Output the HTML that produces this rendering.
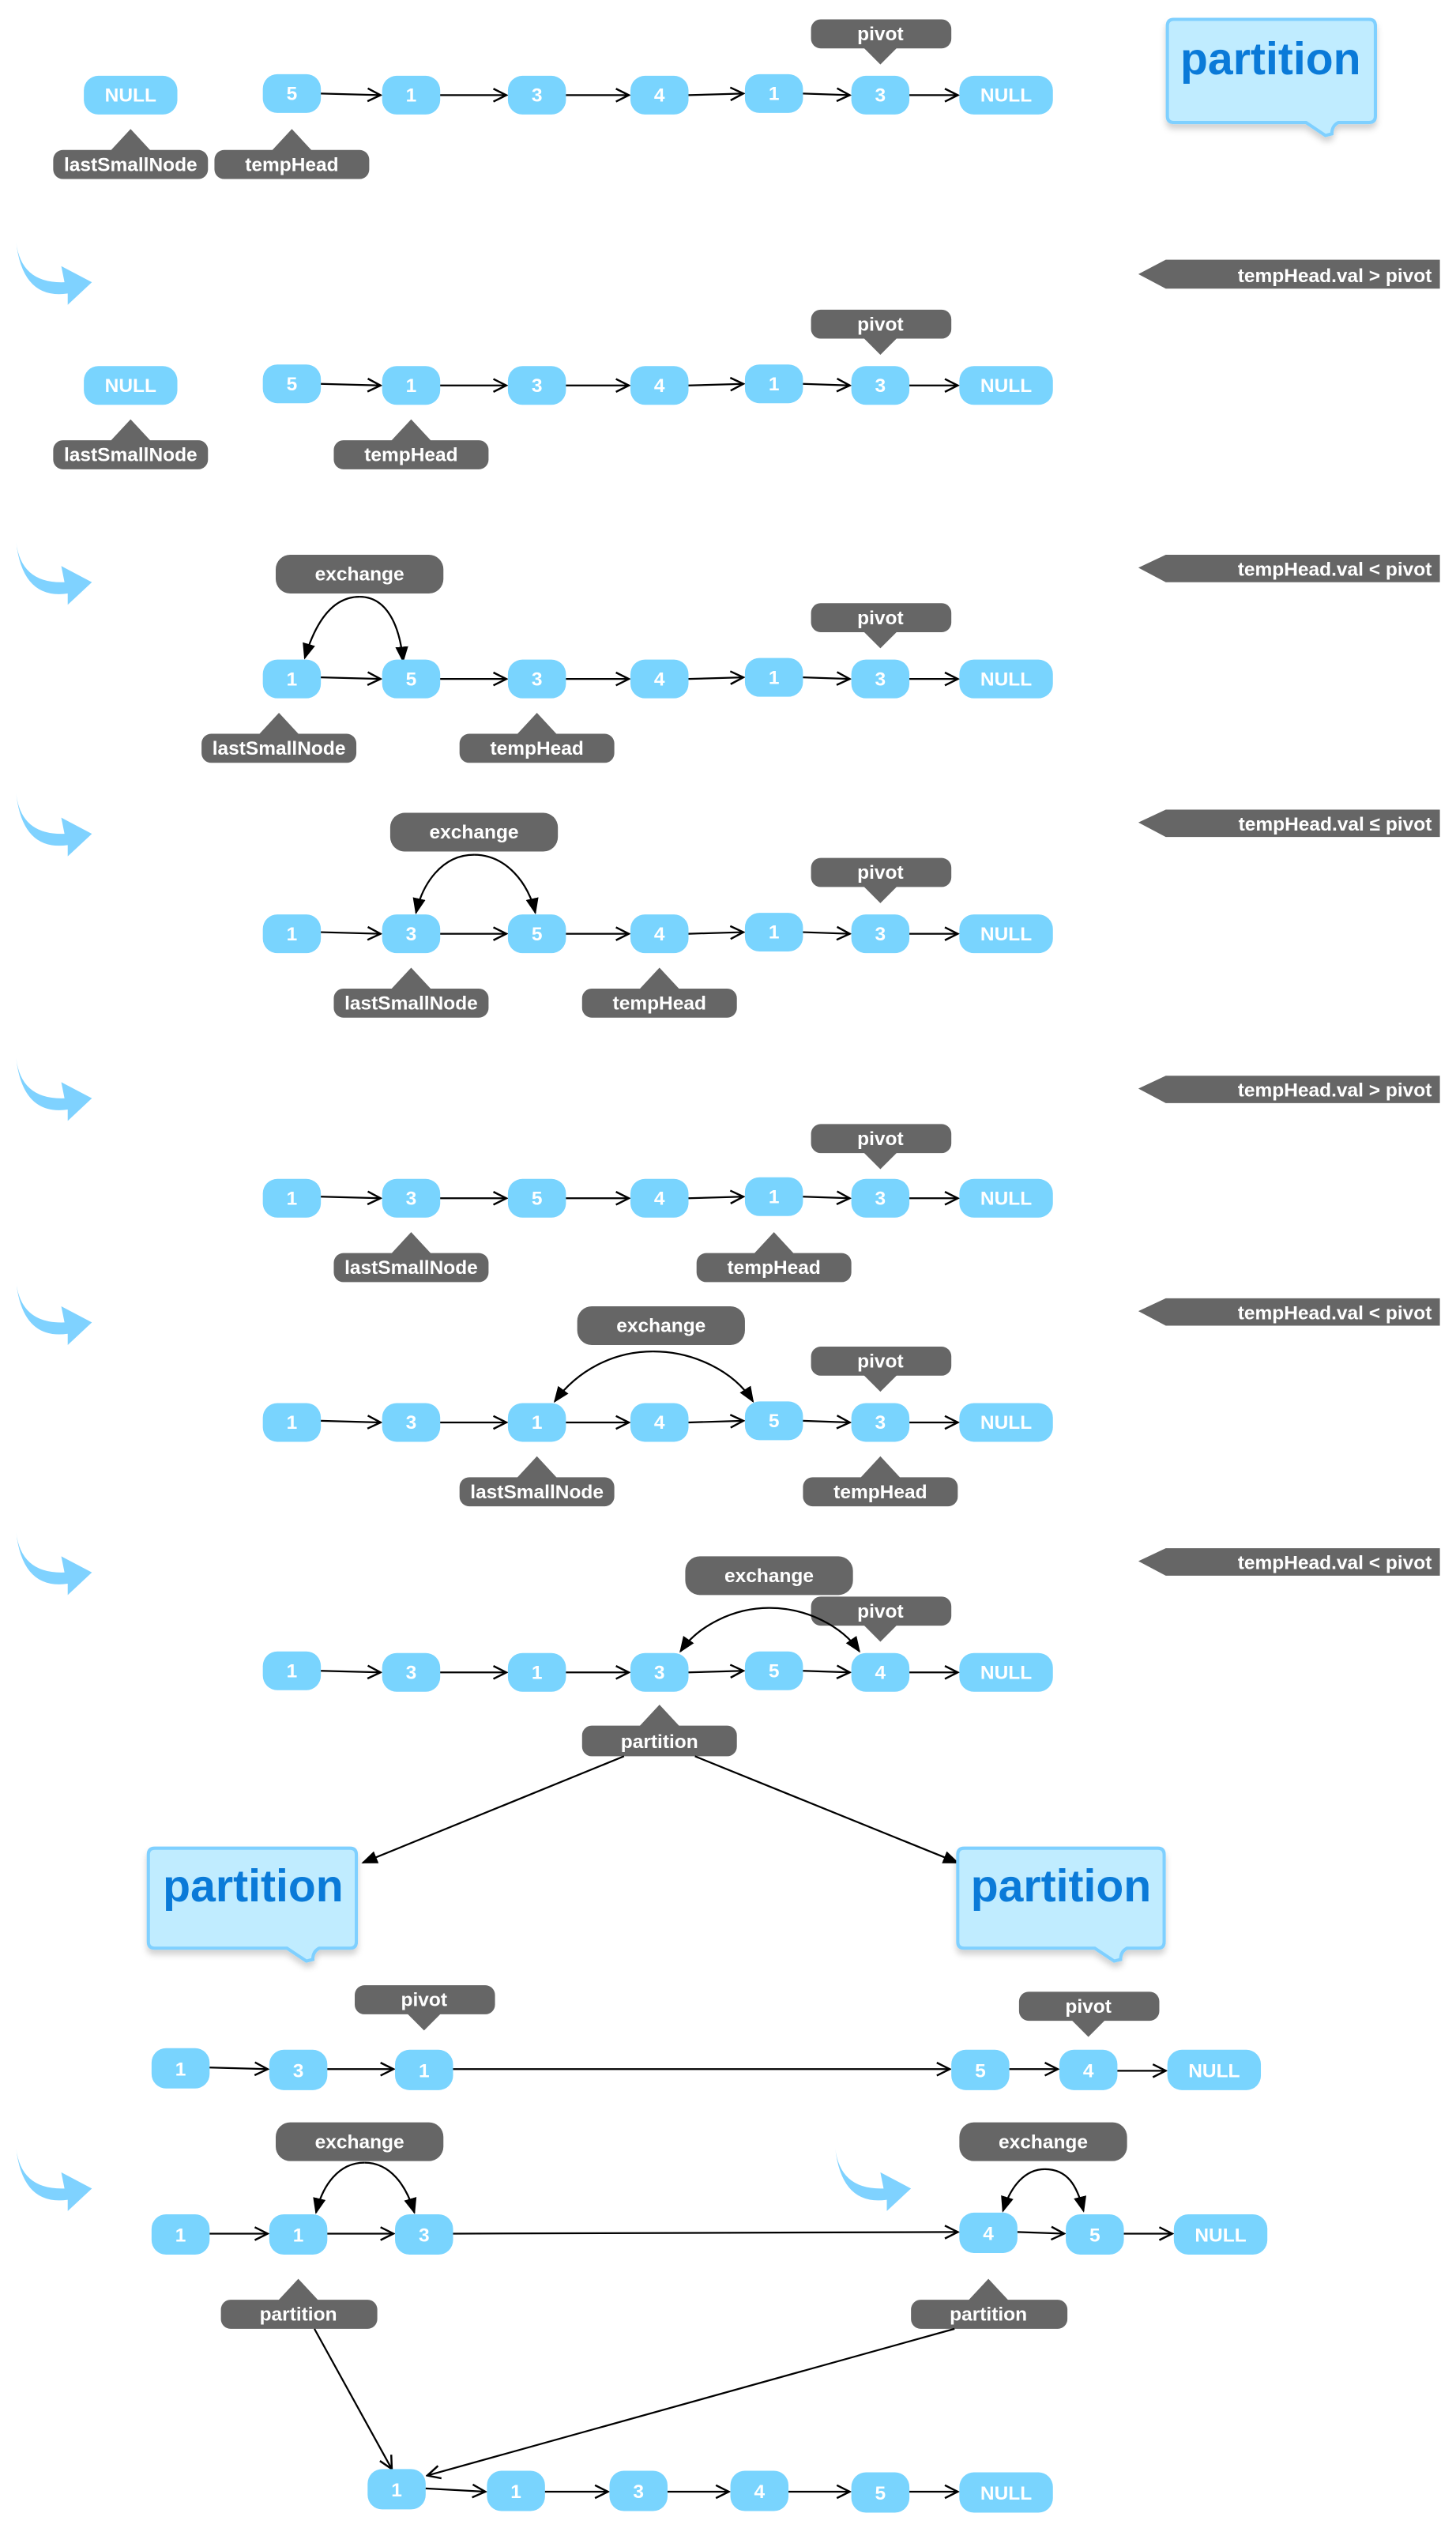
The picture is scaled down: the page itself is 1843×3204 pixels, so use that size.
<!DOCTYPE html>
<html><head><meta charset="utf-8"><style>
html,body{margin:0;padding:0;background:#fff;}
svg{display:block;}
text{font-family:"Liberation Sans",Arial,sans-serif;font-weight:bold;}
.n{fill:#79D4FE;}
.nt{fill:#fff;font-size:12px;text-anchor:middle;}
.g{fill:#666;}
.gt{fill:#fff;font-size:12px;text-anchor:middle;}
.a{stroke:#000;stroke-width:1.1;fill:none;marker-end:url(#oa);}
.c{stroke:#000;stroke-width:1.1;fill:none;marker-end:url(#fa);}
.cw{fill:#7FD2FF;}
.bt{fill:#fff;font-size:12px;text-anchor:end;}
.cb{fill:#C0ECFF;stroke:#7FD0FF;stroke-width:2;}
.ct{fill:#0A7AD8;font-size:28px;text-anchor:middle;}
</style></head><body>
<svg width="1843" height="3204" viewBox="0 0 903 1570" preserveAspectRatio="none" xmlns="http://www.w3.org/2000/svg">
<defs>
<marker id="oa" markerWidth="10" markerHeight="10" refX="9" refY="5" orient="auto" markerUnits="userSpaceOnUse"><path d="M1,1 L9,5 L1,9" fill="none" stroke="#000" stroke-width="1.2"/></marker>
<marker id="fa" markerWidth="10" markerHeight="12" refX="9" refY="5" orient="auto" markerUnits="userSpaceOnUse"><path d="M0,1 L10,5 L0,9 Z" fill="#000"/></marker>
<filter id="sh" x="-10%" y="-10%" width="130%" height="140%"><feDropShadow dx="0" dy="3" stdDeviation="2" flood-color="#000" flood-opacity="0.18"/></filter>
<g id="swoosh"><path class="cw" d="M10,0 Q13,26 40,25 L38,15 L57,25 L42,39 L42,32 Q14,36 10,0 Z"/></g>
</defs>

<!-- ===== Row 1 (y 59) ===== -->
<rect class="n" x="52" y="47" width="58" height="24" rx="9"/><text class="nt" x="81" y="63">NULL</text>
<rect class="n" x="163" y="46" width="36" height="24" rx="9"/><text class="nt" x="181" y="62">5</text>
<rect class="n" x="237" y="47" width="36" height="24" rx="9"/><text class="nt" x="255" y="63">1</text>
<rect class="n" x="315" y="47" width="36" height="24" rx="9"/><text class="nt" x="333" y="63">3</text>
<rect class="n" x="391" y="47" width="36" height="24" rx="9"/><text class="nt" x="409" y="63">4</text>
<rect class="n" x="462" y="46" width="36" height="24" rx="9"/><text class="nt" x="480" y="62">1</text>
<rect class="n" x="528" y="47" width="36" height="24" rx="9"/><text class="nt" x="546" y="63">3</text>
<rect class="n" x="595" y="47" width="58" height="24" rx="9"/><text class="nt" x="624" y="63">NULL</text>
<line class="a" x1="199" y1="58" x2="236" y2="59"/><line class="a" x1="273" y1="59" x2="314" y2="59"/><line class="a" x1="351" y1="59" x2="390" y2="59"/><line class="a" x1="427" y1="59" x2="461" y2="58"/><line class="a" x1="498" y1="58" x2="527" y2="59"/><line class="a" x1="564" y1="59" x2="594" y2="59"/>
<rect class="g" x="503" y="12" width="87" height="18" rx="6"/><polygon class="g" points="535,29 557,29 546,40"/><text class="gt" x="546" y="25">pivot</text>
<rect class="g" x="33" y="93" width="96" height="18" rx="6"/><polygon class="g" points="68,94 94,94 81,80"/><text class="gt" x="81" y="106">lastSmallNode</text>
<rect class="g" x="133" y="93" width="96" height="18" rx="6"/><polygon class="g" points="168,94 194,94 181,80"/><text class="gt" x="181" y="106">tempHead</text>
<g filter="url(#sh)"><path class="cb" d="M728,12 H849 Q853,12 853,16 V72 Q853,76 849,76 H830 Q826,78 826,83 L822,84 L810,76 H728 Q724,76 724,72 V16 Q724,12 728,12 Z"/></g>
<text class="ct" x="788" y="46">partition</text>

<!-- ===== Row 2 ===== -->
<use href="#swoosh" x="0" y="150"/>
<polygon class="g" points="706,170 723,161 893,161 893,179 723,179"/><text class="bt" x="888" y="175">tempHead.val &gt; pivot</text>
<rect class="n" x="52" y="227" width="58" height="24" rx="9"/><text class="nt" x="81" y="243">NULL</text>
<rect class="n" x="163" y="226" width="36" height="24" rx="9"/><text class="nt" x="181" y="242">5</text>
<rect class="n" x="237" y="227" width="36" height="24" rx="9"/><text class="nt" x="255" y="243">1</text>
<rect class="n" x="315" y="227" width="36" height="24" rx="9"/><text class="nt" x="333" y="243">3</text>
<rect class="n" x="391" y="227" width="36" height="24" rx="9"/><text class="nt" x="409" y="243">4</text>
<rect class="n" x="462" y="226" width="36" height="24" rx="9"/><text class="nt" x="480" y="242">1</text>
<rect class="n" x="528" y="227" width="36" height="24" rx="9"/><text class="nt" x="546" y="243">3</text>
<rect class="n" x="595" y="227" width="58" height="24" rx="9"/><text class="nt" x="624" y="243">NULL</text>
<line class="a" x1="199" y1="238" x2="236" y2="239"/><line class="a" x1="273" y1="239" x2="314" y2="239"/><line class="a" x1="351" y1="239" x2="390" y2="239"/><line class="a" x1="427" y1="239" x2="461" y2="238"/><line class="a" x1="498" y1="238" x2="527" y2="239"/><line class="a" x1="564" y1="239" x2="594" y2="239"/>
<rect class="g" x="503" y="192" width="87" height="18" rx="6"/><polygon class="g" points="535,209 557,209 546,220"/><text class="gt" x="546" y="205">pivot</text>
<rect class="g" x="33" y="273" width="96" height="18" rx="6"/><polygon class="g" points="68,274 94,274 81,260"/><text class="gt" x="81" y="286">lastSmallNode</text>
<rect class="g" x="207" y="273" width="96" height="18" rx="6"/><polygon class="g" points="242,274 268,274 255,260"/><text class="gt" x="255" y="286">tempHead</text>

<!-- ===== Row 3 ===== -->
<use href="#swoosh" x="0" y="336"/>
<polygon class="g" points="706,352 723,344 893,344 893,361 723,361"/><text class="bt" x="888" y="357">tempHead.val &lt; pivot</text>
<rect class="g" x="171" y="344" width="104" height="24" rx="9"/><text class="gt" x="223" y="360">exchange</text>
<path class="c" d="M223,370 C205,370 195,388 189,408"/><path class="c" d="M223,370 C240,370 248,388 250,410"/>
<rect class="n" x="163" y="409" width="36" height="24" rx="9"/><text class="nt" x="181" y="425">1</text>
<rect class="n" x="237" y="409" width="36" height="24" rx="9"/><text class="nt" x="255" y="425">5</text>
<rect class="n" x="315" y="409" width="36" height="24" rx="9"/><text class="nt" x="333" y="425">3</text>
<rect class="n" x="391" y="409" width="36" height="24" rx="9"/><text class="nt" x="409" y="425">4</text>
<rect class="n" x="462" y="408" width="36" height="24" rx="9"/><text class="nt" x="480" y="424">1</text>
<rect class="n" x="528" y="409" width="36" height="24" rx="9"/><text class="nt" x="546" y="425">3</text>
<rect class="n" x="595" y="409" width="58" height="24" rx="9"/><text class="nt" x="624" y="425">NULL</text>
<line class="a" x1="199" y1="420" x2="236" y2="421"/><line class="a" x1="273" y1="421" x2="314" y2="421"/><line class="a" x1="351" y1="421" x2="390" y2="421"/><line class="a" x1="427" y1="421" x2="461" y2="420"/><line class="a" x1="498" y1="420" x2="527" y2="421"/><line class="a" x1="564" y1="421" x2="594" y2="421"/>
<rect class="g" x="503" y="374" width="87" height="18" rx="6"/><polygon class="g" points="535,391 557,391 546,402"/><text class="gt" x="546" y="387">pivot</text>
<rect class="g" x="125" y="455" width="96" height="18" rx="6"/><polygon class="g" points="160,456 186,456 173,442"/><text class="gt" x="173" y="468">lastSmallNode</text>
<rect class="g" x="285" y="455" width="96" height="18" rx="6"/><polygon class="g" points="320,456 346,456 333,442"/><text class="gt" x="333" y="468">tempHead</text>

<!-- ===== Row 4 ===== -->
<use href="#swoosh" x="0" y="492"/>
<polygon class="g" points="706,510 723,502 893,502 893,519 723,519"/><text class="bt" x="888" y="515">tempHead.val ≤ pivot</text>
<rect class="g" x="242" y="504" width="104" height="24" rx="9"/><text class="gt" x="294" y="520">exchange</text>
<path class="c" d="M294,530 C274,530 262,548 258,566"/><path class="c" d="M294,530 C314,530 328,548 332,566"/>
<rect class="n" x="163" y="567" width="36" height="24" rx="9"/><text class="nt" x="181" y="583">1</text>
<rect class="n" x="237" y="567" width="36" height="24" rx="9"/><text class="nt" x="255" y="583">3</text>
<rect class="n" x="315" y="567" width="36" height="24" rx="9"/><text class="nt" x="333" y="583">5</text>
<rect class="n" x="391" y="567" width="36" height="24" rx="9"/><text class="nt" x="409" y="583">4</text>
<rect class="n" x="462" y="566" width="36" height="24" rx="9"/><text class="nt" x="480" y="582">1</text>
<rect class="n" x="528" y="567" width="36" height="24" rx="9"/><text class="nt" x="546" y="583">3</text>
<rect class="n" x="595" y="567" width="58" height="24" rx="9"/><text class="nt" x="624" y="583">NULL</text>
<line class="a" x1="199" y1="578" x2="236" y2="579"/><line class="a" x1="273" y1="579" x2="314" y2="579"/><line class="a" x1="351" y1="579" x2="390" y2="579"/><line class="a" x1="427" y1="579" x2="461" y2="578"/><line class="a" x1="498" y1="578" x2="527" y2="579"/><line class="a" x1="564" y1="579" x2="594" y2="579"/>
<rect class="g" x="503" y="532" width="87" height="18" rx="6"/><polygon class="g" points="535,549 557,549 546,560"/><text class="gt" x="546" y="545">pivot</text>
<rect class="g" x="207" y="613" width="96" height="18" rx="6"/><polygon class="g" points="242,614 268,614 255,600"/><text class="gt" x="255" y="626">lastSmallNode</text>
<rect class="g" x="361" y="613" width="96" height="18" rx="6"/><polygon class="g" points="396,614 422,614 409,600"/><text class="gt" x="409" y="626">tempHead</text>

<!-- ===== Row 5 ===== -->
<use href="#swoosh" x="0" y="656"/>
<polygon class="g" points="706,675 723,667 893,667 893,684 723,684"/><text class="bt" x="888" y="680">tempHead.val &gt; pivot</text>
<rect class="n" x="163" y="731" width="36" height="24" rx="9"/><text class="nt" x="181" y="747">1</text>
<rect class="n" x="237" y="731" width="36" height="24" rx="9"/><text class="nt" x="255" y="747">3</text>
<rect class="n" x="315" y="731" width="36" height="24" rx="9"/><text class="nt" x="333" y="747">5</text>
<rect class="n" x="391" y="731" width="36" height="24" rx="9"/><text class="nt" x="409" y="747">4</text>
<rect class="n" x="462" y="730" width="36" height="24" rx="9"/><text class="nt" x="480" y="746">1</text>
<rect class="n" x="528" y="731" width="36" height="24" rx="9"/><text class="nt" x="546" y="747">3</text>
<rect class="n" x="595" y="731" width="58" height="24" rx="9"/><text class="nt" x="624" y="747">NULL</text>
<line class="a" x1="199" y1="742" x2="236" y2="743"/><line class="a" x1="273" y1="743" x2="314" y2="743"/><line class="a" x1="351" y1="743" x2="390" y2="743"/><line class="a" x1="427" y1="743" x2="461" y2="742"/><line class="a" x1="498" y1="742" x2="527" y2="743"/><line class="a" x1="564" y1="743" x2="594" y2="743"/>
<rect class="g" x="503" y="697" width="87" height="18" rx="6"/><polygon class="g" points="535,714 557,714 546,725"/><text class="gt" x="546" y="710">pivot</text>
<rect class="g" x="207" y="777" width="96" height="18" rx="6"/><polygon class="g" points="242,778 268,778 255,764"/><text class="gt" x="255" y="790">lastSmallNode</text>
<rect class="g" x="432" y="777" width="96" height="18" rx="6"/><polygon class="g" points="467,778 493,778 480,764"/><text class="gt" x="480" y="790">tempHead</text>

<!-- ===== Row 6 ===== -->
<use href="#swoosh" x="0" y="795"/>
<polygon class="g" points="706,813 723,805 893,805 893,822 723,822"/><text class="bt" x="888" y="818">tempHead.val &lt; pivot</text>
<rect class="g" x="358" y="810" width="104" height="24" rx="9"/><text class="gt" x="410" y="826">exchange</text>
<path class="c" d="M405,838 C380,838 358,850 344,869"/><path class="c" d="M405,838 C430,838 455,850 467,869"/>
<rect class="n" x="163" y="870" width="36" height="24" rx="9"/><text class="nt" x="181" y="886">1</text>
<rect class="n" x="237" y="870" width="36" height="24" rx="9"/><text class="nt" x="255" y="886">3</text>
<rect class="n" x="315" y="870" width="36" height="24" rx="9"/><text class="nt" x="333" y="886">1</text>
<rect class="n" x="391" y="870" width="36" height="24" rx="9"/><text class="nt" x="409" y="886">4</text>
<rect class="n" x="462" y="869" width="36" height="24" rx="9"/><text class="nt" x="480" y="885">5</text>
<rect class="n" x="528" y="870" width="36" height="24" rx="9"/><text class="nt" x="546" y="886">3</text>
<rect class="n" x="595" y="870" width="58" height="24" rx="9"/><text class="nt" x="624" y="886">NULL</text>
<line class="a" x1="199" y1="881" x2="236" y2="882"/><line class="a" x1="273" y1="882" x2="314" y2="882"/><line class="a" x1="351" y1="882" x2="390" y2="882"/><line class="a" x1="427" y1="882" x2="461" y2="881"/><line class="a" x1="498" y1="881" x2="527" y2="882"/><line class="a" x1="564" y1="882" x2="594" y2="882"/>
<rect class="g" x="503" y="835" width="87" height="18" rx="6"/><polygon class="g" points="535,852 557,852 546,863"/><text class="gt" x="546" y="848">pivot</text>
<rect class="g" x="285" y="916" width="96" height="18" rx="6"/><polygon class="g" points="320,917 346,917 333,903"/><text class="gt" x="333" y="929">lastSmallNode</text>
<rect class="g" x="498" y="916" width="96" height="18" rx="6"/><polygon class="g" points="533,917 559,917 546,903"/><text class="gt" x="546" y="929">tempHead</text>

<!-- ===== Row 7 ===== -->
<use href="#swoosh" x="0" y="950"/>
<polygon class="g" points="706,968 723,960 893,960 893,977 723,977"/><text class="bt" x="888" y="973">tempHead.val &lt; pivot</text>
<rect class="g" x="425" y="965" width="104" height="24" rx="9"/><text class="gt" x="477" y="981">exchange</text>
<rect class="g" x="503" y="990" width="87" height="18" rx="6"/><polygon class="g" points="535,1007 557,1007 546,1018"/><text class="gt" x="546" y="1003">pivot</text>
<path class="c" d="M477,997 C455,997 433,1008 422,1024"/><path class="c" d="M477,997 C500,997 522,1008 533,1024"/>
<rect class="n" x="163" y="1024" width="36" height="24" rx="9"/><text class="nt" x="181" y="1040">1</text>
<rect class="n" x="237" y="1025" width="36" height="24" rx="9"/><text class="nt" x="255" y="1041">3</text>
<rect class="n" x="315" y="1025" width="36" height="24" rx="9"/><text class="nt" x="333" y="1041">1</text>
<rect class="n" x="391" y="1025" width="36" height="24" rx="9"/><text class="nt" x="409" y="1041">3</text>
<rect class="n" x="462" y="1024" width="36" height="24" rx="9"/><text class="nt" x="480" y="1040">5</text>
<rect class="n" x="528" y="1025" width="36" height="24" rx="9"/><text class="nt" x="546" y="1041">4</text>
<rect class="n" x="595" y="1025" width="58" height="24" rx="9"/><text class="nt" x="624" y="1041">NULL</text>
<line class="a" x1="199" y1="1036" x2="236" y2="1037"/><line class="a" x1="273" y1="1037" x2="314" y2="1037"/><line class="a" x1="351" y1="1037" x2="390" y2="1037"/><line class="a" x1="427" y1="1037" x2="461" y2="1036"/><line class="a" x1="498" y1="1036" x2="527" y2="1037"/><line class="a" x1="564" y1="1037" x2="594" y2="1037"/>
<rect class="g" x="361" y="1070" width="96" height="19" rx="6"/><polygon class="g" points="396,1071 422,1071 409,1057"/><text class="gt" x="409" y="1084">partition</text>
<line class="c" x1="387" y1="1089" x2="225" y2="1155"/><line class="c" x1="431" y1="1089" x2="594" y2="1155"/>

<!-- callouts -->
<g filter="url(#sh)"><path class="cb" d="M96,1146 H217 Q221,1146 221,1150 V1204 Q221,1208 217,1208 H198 Q194,1210 194,1215 L190,1216 L178,1208 H96 Q92,1208 92,1204 V1150 Q92,1146 96,1146 Z"/></g>
<text class="ct" x="157" y="1179">partition</text>
<g filter="url(#sh)"><path class="cb" d="M598,1146 H718 Q722,1146 722,1150 V1204 Q722,1208 718,1208 H699 Q695,1210 695,1215 L691,1216 L679,1208 H598 Q594,1208 594,1204 V1150 Q594,1146 598,1146 Z"/></g>
<text class="ct" x="658" y="1179">partition</text>

<!-- ===== Row 8 ===== -->
<rect class="g" x="220" y="1231" width="87" height="18" rx="6"/><polygon class="g" points="252,1248 274,1248 263,1259"/><text class="gt" x="263" y="1244">pivot</text>
<rect class="g" x="632" y="1235" width="87" height="18" rx="6"/><polygon class="g" points="664,1252 686,1252 675,1263"/><text class="gt" x="675" y="1248">pivot</text>
<rect class="n" x="94" y="1270" width="36" height="25" rx="9"/><text class="nt" x="112" y="1287">1</text>
<rect class="n" x="167" y="1271" width="36" height="25" rx="9"/><text class="nt" x="185" y="1288">3</text>
<rect class="n" x="245" y="1271" width="36" height="25" rx="9"/><text class="nt" x="263" y="1288">1</text>
<rect class="n" x="590" y="1271" width="36" height="25" rx="9"/><text class="nt" x="608" y="1288">5</text>
<rect class="n" x="657" y="1271" width="36" height="25" rx="9"/><text class="nt" x="675" y="1288">4</text>
<rect class="n" x="724" y="1271" width="58" height="25" rx="9"/><text class="nt" x="753" y="1288">NULL</text>
<line class="a" x1="130" y1="1282" x2="166" y2="1283"/><line class="a" x1="203" y1="1283" x2="244" y2="1283"/><line class="a" x1="281" y1="1283" x2="589" y2="1283"/><line class="a" x1="626" y1="1283" x2="656" y2="1283"/><line class="a" x1="693" y1="1284" x2="723" y2="1284"/>

<!-- ===== Row 9 ===== -->
<use href="#swoosh" x="0" y="1332"/>
<use href="#swoosh" x="508" y="1332"/>
<rect class="g" x="171" y="1316" width="104" height="24" rx="9"/><text class="gt" x="223" y="1332">exchange</text>
<rect class="g" x="595" y="1316" width="104" height="24" rx="9"/><text class="gt" x="647" y="1332">exchange</text>
<path class="c" d="M226,1341 C210,1341 200,1355 196,1372"/><path class="c" d="M226,1341 C242,1341 252,1355 257,1372"/>
<path class="c" d="M648,1345 C636,1345 627,1355 622,1371"/><path class="c" d="M648,1345 C662,1345 668,1355 672,1371"/>
<rect class="n" x="94" y="1373" width="36" height="25" rx="9"/><text class="nt" x="112" y="1390">1</text>
<rect class="n" x="167" y="1373" width="36" height="25" rx="9"/><text class="nt" x="185" y="1390">1</text>
<rect class="n" x="245" y="1373" width="36" height="25" rx="9"/><text class="nt" x="263" y="1390">3</text>
<rect class="n" x="595" y="1372" width="36" height="25" rx="9"/><text class="nt" x="613" y="1389">4</text>
<rect class="n" x="661" y="1373" width="36" height="25" rx="9"/><text class="nt" x="679" y="1390">5</text>
<rect class="n" x="728" y="1373" width="58" height="25" rx="9"/><text class="nt" x="757" y="1390">NULL</text>
<line class="a" x1="130" y1="1385" x2="166" y2="1385"/><line class="a" x1="203" y1="1385" x2="244" y2="1385"/><line class="a" x1="281" y1="1385" x2="594" y2="1384"/><line class="a" x1="631" y1="1384" x2="660" y2="1385"/><line class="a" x1="697" y1="1385" x2="727" y2="1385"/>
<rect class="g" x="137" y="1426" width="97" height="18" rx="6"/><polygon class="g" points="172,1427 198,1427 185,1413"/><text class="gt" x="185" y="1439">partition</text>
<rect class="g" x="565" y="1426" width="97" height="18" rx="6"/><polygon class="g" points="600,1427 626,1427 613,1413"/><text class="gt" x="613" y="1439">partition</text>
<line class="a" x1="195" y1="1444" x2="243" y2="1531"/><line class="a" x1="592" y1="1444" x2="265" y2="1535"/>

<!-- ===== Row 10 ===== -->
<rect class="n" x="228" y="1531" width="36" height="25" rx="9"/><text class="nt" x="246" y="1548">1</text>
<rect class="n" x="302" y="1532" width="36" height="25" rx="9"/><text class="nt" x="320" y="1549">1</text>
<rect class="n" x="378" y="1532" width="36" height="25" rx="9"/><text class="nt" x="396" y="1549">3</text>
<rect class="n" x="453" y="1532" width="36" height="25" rx="9"/><text class="nt" x="471" y="1549">4</text>
<rect class="n" x="528" y="1533" width="36" height="25" rx="9"/><text class="nt" x="546" y="1550">5</text>
<rect class="n" x="595" y="1533" width="58" height="25" rx="9"/><text class="nt" x="624" y="1550">NULL</text>
<line class="a" x1="264" y1="1543" x2="301" y2="1545"/><line class="a" x1="338" y1="1545" x2="377" y2="1545"/><line class="a" x1="414" y1="1545" x2="452" y2="1545"/><line class="a" x1="489" y1="1545" x2="527" y2="1545"/><line class="a" x1="564" y1="1545" x2="594" y2="1545"/>
</svg>
</body></html>
